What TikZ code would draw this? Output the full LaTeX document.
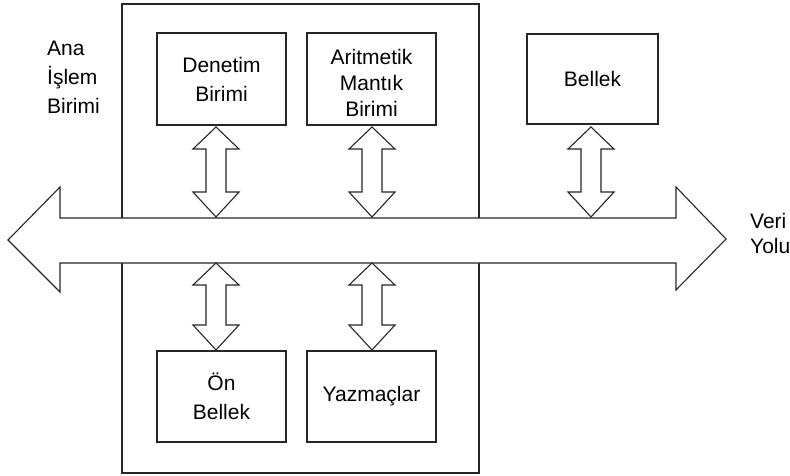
\documentclass[tikz,border=0pt]{standalone}
\usepackage{fontspec}
\setmainfont{Liberation Sans}
\begin{document}
\begin{tikzpicture}[x=1pt,y=-1pt,
  line/.style={draw=black!85,line width=1.1pt,line join=miter},
  unit/.style={line,rectangle,inner sep=0pt,align=center,
    font=\fontsize{21}{29}\selectfont},
  lbl/.style={inner sep=0pt,align=left,anchor=west},
  dblarr/.style={line,fill=white}]
\useasboundingbox (0,0) rectangle (790,476);
% outer CPU box
\node[line,rectangle,inner sep=0pt,minimum width=357pt,minimum height=469pt] (cpu) at (300.5,238.5) {};
% data bus
\coordinate (busL) at (8,240);
\coordinate (busR) at (726,239);
\draw[line,fill=white] (busL) -- (60,187) -- (60,218) -- (676,218) -- (676,187)
  -- (busR) -- (676,290) -- (676,263) -- (60,263) -- (60,292) -- cycle;
% units
\node[unit,minimum width=129pt,minimum height=92pt] (den) at (221.5,79) {Denetim\\Birimi};
\node[unit,minimum width=129pt,minimum height=92pt,
  font=\fontsize{21}{26}\selectfont] (alu) at (371.5,79) {\rule{0pt}{24pt}Aritmetik\\Mantık\\Birimi};
\node[unit,minimum width=131pt,minimum height=90pt] (bel) at (592.5,79) {Bellek};
\node[unit,minimum width=129pt,minimum height=91pt] (onb) at (221.5,396.5) {Ön\\Bellek};
\node[unit,minimum width=129pt,minimum height=91pt] (yaz) at (371.5,396.5) {Yazmaçlar};
% labels
\node[lbl,font=\fontsize{21}{29}\selectfont] (ana) at (47,77) {Ana\\İşlem\\Birimi};
\node[lbl,font=\fontsize{21}{25}\selectfont] (veri) at (750,233) {Veri\\Yolu};
% double arrows: x, top, bottom
\newcommand\dblarrow[3]{%
  \draw[dblarr] (#1,#2) -- (#1+23,#2+22) -- (#1+10,#2+22) -- (#1+10,#3-25)
    -- (#1+23,#3-25) -- (#1,#3) -- (#1-23,#3-25) -- (#1-10,#3-25)
    -- (#1-10,#2+22) -- (#1-23,#2+22) -- cycle;}
\dblarrow{216}{127}{217}
\dblarrow{372}{127}{217}
\dblarrow{591}{127}{217}
\dblarrow{216}{263}{350}
\dblarrow{372}{263}{350}
\end{tikzpicture}
\end{document}
